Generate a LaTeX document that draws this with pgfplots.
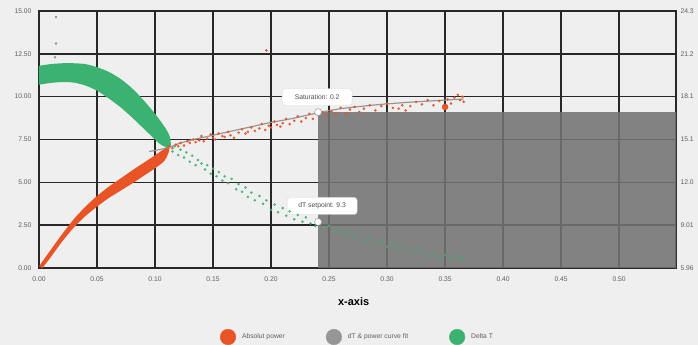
\documentclass[border=0pt]{standalone}
\usepackage{fontspec}
\setmainfont{Liberation Sans}
\usepackage{pgfplots}
\pgfplotsset{compat=1.18}
\definecolor{bg}{RGB}{239,239,239}
\definecolor{orangeC}{RGB}{233,84,38}
\definecolor{greenC}{RGB}{60,178,112}
\definecolor{fitC}{RGB}{150,150,150}
\definecolor{rectC}{RGB}{115,115,115}
\definecolor{gridC}{RGB}{40,40,40}
\definecolor{tickC}{RGB}{95,95,95}
\definecolor{outC}{RGB}{140,155,145}

\begin{document}
\begin{tikzpicture}
\fill[bg, use as bounding box] (-39bp,-77bp) rectangle (659bp,268bp);
\begin{axis}[
  scale only axis, width=637bp, height=257bp,
  xmin=0, xmax=0.549, ymin=0, ymax=15,
  xtick={0,0.05,0.1,0.15,0.2,0.25,0.3,0.35,0.4,0.45,0.5},
  ytick={0,2.5,5,7.5,10,12.5,15},
  /pgf/number format/.cd, fixed, fixed zerofill, precision=2, assume math mode=true,
  /pgfplots/.cd,
  tick label style={font=\fontsize{6.8}{7}\selectfont, text=tickC},
  xticklabel style={yshift=-5bp},
  yticklabel style={xshift=-4bp},
  grid=major, major grid style={gridC, line width=1.4bp},
  axis line style={gridC, line width=1.7bp},
  major tick length=0,
  axis background/.style={fill=bg},
  xlabel={x-axis},
  xlabel style={font=\bfseries\fontsize{11}{12}\selectfont, at={(axis description cs:0.494,0)}, anchor=center, yshift=-34bp},
  legend style={at={(axis description cs:0.500,0)}, anchor=center, yshift=-69bp, draw=none, fill=none,
    font=\fontsize{6.8}{7}\selectfont, text=tickC, legend columns=3,
    /tikz/every odd column/.append style={column sep=4bp},
    /tikz/every even column/.append style={column sep=39bp}},
  legend cell align=left,
]
\addlegendimage{legend image code/.code={\fill[orangeC] (0bp,0bp) circle (7.8bp);}}
\addlegendentry{Absolut power}
\addlegendimage{legend image code/.code={\fill[fitC] (0bp,0bp) circle (7.8bp);}}
\addlegendentry{dT \& power curve fit}
\addlegendimage{legend image code/.code={\fill[greenC] (0bp,0bp) circle (7.8bp);}}
\addlegendentry{Delta T}

% Delta T dense band (upper edge, then lower edge back)
\addplot[forget plot, draw=none, fill=greenC, smooth] coordinates {
(0,11.8) (0.01,11.9) (0.02,11.95) (0.03,11.95) (0.04,11.9) (0.05,11.72) (0.06,11.45) (0.07,11.05) (0.08,10.5) (0.09,9.8) (0.1,9.0) (0.105,8.55) (0.11,8.05) (0.113,7.6)
(0.113,7.0) (0.105,7.2) (0.1,7.5) (0.09,8.15) (0.08,8.8) (0.07,9.4) (0.06,9.9) (0.05,10.35) (0.04,10.65) (0.03,10.82) (0.02,10.85) (0.01,10.8) (0,10.7)} -- cycle;
% Delta T scattered
\addplot[forget plot, only marks, mark=*, mark size=1.1bp, greenC, opacity=0.85] coordinates {
(0.108,7.4) (0.11,7.0) (0.112,7.3) (0.115,6.8) (0.117,7.1) (0.12,6.6) (0.122,6.9) (0.125,6.45) (0.127,6.75) (0.13,6.2)
(0.132,6.55) (0.135,6.0) (0.137,6.3) (0.14,6.1) (0.143,5.75) (0.145,6.0) (0.148,5.5) (0.15,5.8) (0.153,5.35) (0.155,5.6)
(0.158,5.1) (0.16,5.35) (0.163,4.95) (0.166,5.2) (0.17,4.6) (0.172,4.9) (0.175,4.45) (0.178,4.7) (0.18,4.15) (0.183,4.4)
(0.186,3.95) (0.19,4.2) (0.193,3.75) (0.196,3.95) (0.2,3.4) (0.203,3.7) (0.206,3.25) (0.21,3.5) (0.213,3.05) (0.216,3.3)
(0.22,2.85) (0.223,3.1) (0.227,2.7) (0.23,2.95) (0.234,2.6) (0.238,2.45) (0.242,2.6) (0.245,2.35) (0.25,2.45) (0.254,2.15)
(0.258,2.3) (0.262,1.95) (0.266,2.1) (0.27,1.8) (0.275,1.95) (0.28,1.55) (0.284,1.75) (0.29,1.4) (0.295,1.6) (0.3,1.25)
(0.305,1.4) (0.31,1.1) (0.315,1.25) (0.32,0.95) (0.325,1.1) (0.33,0.85) (0.336,0.7) (0.34,0.85) (0.345,0.6) (0.35,0.75)
(0.354,0.55) (0.358,0.7) (0.362,0.5) (0.365,0.65)};
% outliers
\addplot[forget plot, only marks, mark=*, mark size=1.1bp, outC] coordinates {(0.0147,14.65) (0.0147,13.1) (0.0138,12.3)};
\addplot[forget plot, only marks, mark=*, mark size=1.1bp, orangeC!80!gray] coordinates {(0.196,12.7)};

% Absolut power dense band (upper edge, then lower edge back)
\addplot[forget plot, draw=none, fill=orangeC, smooth] coordinates {
(0,0.1) (0.01,1.05) (0.02,1.98) (0.03,2.85) (0.04,3.58) (0.05,4.2) (0.06,4.74) (0.07,5.21) (0.08,5.68) (0.09,6.13) (0.1,6.58) (0.108,6.95) (0.112,7.05)
(0.112,6.8) (0.108,6.25) (0.1,5.82) (0.09,5.37) (0.08,4.92) (0.07,4.5) (0.06,4.08) (0.05,3.58) (0.04,3.03) (0.03,2.36) (0.02,1.55) (0.01,0.62) (0.003,0)} -- cycle;

% fit curve
\addplot[forget plot, fitC, line width=1.2bp, smooth] coordinates {
(0.095,6.8) (0.11,7.0) (0.12,7.25) (0.13,7.45) (0.14,7.6) (0.15,7.75) (0.16,7.9) (0.17,8.05) (0.18,8.2) (0.19,8.35)
(0.2,8.5) (0.21,8.62) (0.22,8.75) (0.23,8.9) (0.24,9.05) (0.25,9.18) (0.26,9.3) (0.27,9.38) (0.28,9.45) (0.29,9.52)
(0.3,9.58) (0.31,9.63) (0.32,9.68) (0.33,9.72) (0.34,9.76) (0.35,9.8) (0.36,9.84) (0.366,9.86)};

% Absolut power scattered
\addplot[forget plot, only marks, mark=*, mark size=1.1bp, orangeC, opacity=0.9] coordinates {
(0.110,6.95) (0.112,7.1) (0.115,7.0) (0.118,7.2) (0.120,7.1) (0.122,7.3) (0.125,7.15) (0.128,7.4) (0.130,7.3) (0.133,7.5)
(0.135,7.35) (0.138,7.45) (0.140,7.7) (0.142,7.4) (0.145,7.55) (0.148,7.8) (0.150,7.6) (0.152,7.5) (0.155,7.85) (0.158,7.7)
(0.160,7.65) (0.163,7.95) (0.165,7.75) (0.168,7.6) (0.172,7.9) (0.175,8.1) (0.178,7.85) (0.180,7.95) (0.183,8.2) (0.186,8.0)
(0.19,8.15) (0.192,8.4) (0.195,8.05) (0.198,8.3) (0.2,8.2) (0.203,8.55) (0.205,8.35) (0.208,8.25) (0.21,8.45) (0.213,8.7)
(0.216,8.4) (0.22,8.6) (0.223,8.85) (0.226,8.55) (0.23,8.75) (0.233,9.0) (0.236,8.7) (0.24,8.95) (0.244,9.1) (0.248,8.9)
(0.252,9.15) (0.256,9.05) (0.26,9.35) (0.264,9.0) (0.268,9.25) (0.272,9.4) (0.276,9.1) (0.28,9.3) (0.285,9.5) (0.29,9.2)
(0.295,9.45) (0.3,9.6) (0.305,9.35) (0.31,9.3) (0.313,9.5) (0.316,9.2) (0.32,9.45) (0.325,9.7) (0.33,9.55) (0.335,9.8)
(0.34,9.5) (0.345,9.75) (0.352,9.85) (0.355,9.6) (0.358,9.95) (0.361,10.1) (0.363,9.8) (0.365,10.0) (0.366,9.7)};
\addplot[forget plot, only marks, mark=*, mark size=3bp, orangeC] coordinates {(0.35,9.4)};

% saturation region
\addplot[forget plot, draw=none, fill=rectC, fill opacity=0.88] coordinates {(0.2405,9.1) (0.56,9.1)} \closedcycle;

% markers
\addplot[forget plot, only marks, mark=*, mark size=3.5bp, mark options={fill=white, draw=black!35, line width=0.6bp}] coordinates {(0.2405,9.1) (0.2405,2.69)};
\node[fill=white, draw=black!15, rounded corners=3bp, minimum width=70bp, minimum height=17bp, inner sep=1bp,
  font=\fontsize{6.8}{7}\selectfont, text=black!70] at (axis cs:0.2397,9.98) {Saturation: 0.2};
\node[fill=white, draw=black!15, rounded corners=3bp, minimum width=70bp, minimum height=17bp, inner sep=1bp,
  font=\fontsize{6.8}{7}\selectfont, text=black!70] at (axis cs:0.2440,3.62) {dT setpoint: 9.3};
\end{axis}
\begin{axis}[
  scale only axis, width=637bp, height=257bp,
  xmin=0, xmax=0.549, ymin=0, ymax=15,
  axis y line*=right, axis x line=none,
  ytick={0,2.5,5,7.5,10,12.5,15},
  yticklabels={5.96,9.01,12.0,15.1,18.1,21.2,24.3},
  major tick length=0,
  y axis line style={draw=none},
  tick label style={font=\fontsize{6.8}{7}\selectfont, text=tickC},
  yticklabel style={xshift=1bp},
]
\end{axis}
\end{tikzpicture}
\end{document}
